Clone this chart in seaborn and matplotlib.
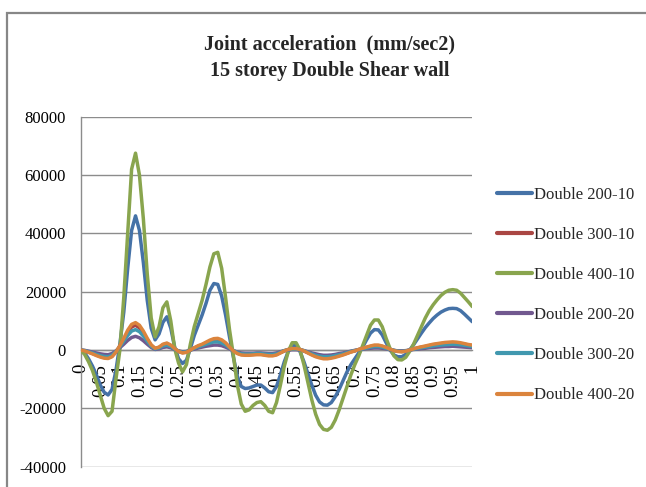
import numpy as np
import pandas as pd
import matplotlib
matplotlib.use("Agg")
import matplotlib.pyplot as plt
from matplotlib.lines import Line2D
from matplotlib.patches import Rectangle
import seaborn as sns

# ---------------- data ----------------
time = [round(i * 0.01, 2) for i in range(101)]

double_200_10 = [
    0, -1000, -3000, -5500, -8500, -12000, -14500, -15400, -13500, -7000,
    2000, 13000, 28000, 41000, 46000, 41000, 30000, 17000, 7500, 3500,
    5500, 9500, 11400, 7500, 1000, -3000, -4600, -3500, 500, 5000,
    8500, 12000, 16000, 20500, 22800, 22500, 18500, 12000, 4500, -2500,
    -9000, -12500, -13200, -13000, -12500, -12000, -12000, -13000, -14300, -14600,
    -12500, -8500, -4000, -500, 1500, 1500, -500, -4000, -8000, -12000,
    -15500, -17800, -18800, -18900, -18000, -16000, -13500, -10500, -7500, -5000,
    -3000, -1000, 1000, 3500, 5800, 7000, 6900, 5200, 2500, 0,
    -1700, -2300, -2300, -1500, 0, 1800, 3800, 5800, 7700, 9300,
    10800, 12000, 13000, 13700, 14200, 14300, 14200, 13500, 12300, 11000,
    9700]

double_300_10 = [
    0, -300, -700, -1200, -1700, -2200, -2500, -2600, -2100, -600,
    1300, 3600, 6100, 7900, 8500, 7600, 5800, 3600, 1600, 500,
    900, 1800, 2200, 1500, 400, -500, -900, -700, 0, 700,
    1300, 1800, 2400, 3000, 3500, 3600, 3100, 2200, 900, -300,
    -1100, -1500, -1600, -1600, -1500, -1400, -1400, -1600, -1800, -1800,
    -1500, -900, -300, 200, 400, 400, 200, -300, -900, -1500,
    -2100, -2400, -2700, -2700, -2500, -2200, -1900, -1500, -1100, -600,
    -300, 200, 500, 900, 1200, 1500, 1500, 1200, 800, 300,
    -200, -400, -500, -400, 0, 400, 700, 1000, 1200, 1500,
    1800, 2000, 2200, 2300, 2400, 2500, 2400, 2200, 2000, 1700,
    1500]

double_400_10 = [
    0, -1500, -4000, -7000, -11000, -15500, -20000, -22500, -21000, -10000,
    0, 18000, 40000, 62000, 67500, 60000, 45000, 26000, 11000, 4500,
    8000, 14500, 16500, 10000, 500, -4500, -7500, -5000, 2000, 8000,
    12500, 17000, 22500, 28500, 33000, 33500, 28000, 18000, 7000, -2000,
    -12000, -18500, -21000, -20500, -19000, -18000, -17700, -19000, -21000, -21500,
    -18000, -12000, -5500, -500, 2500, 2500, 0, -5000, -11000, -17000,
    -22000, -25500, -27200, -27500, -26500, -24000, -20500, -16500, -12500, -8500,
    -5000, -2000, 1500, 5000, 8500, 10300, 10300, 8000, 4000, 500,
    -2000, -3300, -3400, -2500, -500, 2000, 5000, 8000, 11000, 13500,
    15500, 17200, 18700, 19800, 20500, 20700, 20500, 19500, 18000, 16500,
    14900]

double_200_20 = [
    0, -100, -400, -700, -1000, -1300, -1500, -1600, -1200, -300,
    800, 2000, 3300, 4300, 4700, 4200, 3200, 2000, 900, 200,
    400, 900, 1100, 800, 200, -300, -600, -500, 0, 300,
    700, 1000, 1300, 1500, 1700, 1700, 1500, 1000, 400, -200,
    -700, -1000, -1100, -1100, -1100, -1000, -1000, -1100, -1200, -1200,
    -1000, -600, -200, 0, 100, 100, 0, -200, -600, -1000,
    -1300, -1600, -1800, -1800, -1700, -1500, -1200, -1000, -700, -400,
    -100, 100, 300, 500, 600, 700, 700, 600, 400, 100,
    -100, -300, -300, -200, 0, 200, 300, 500, 600, 800,
    900, 1000, 1100, 1200, 1200, 1300, 1200, 1100, 1000, 900,
    800]

double_300_20 = [
    0, -200, -600, -1000, -1500, -1900, -2200, -2300, -1800, -500,
    1100, 3000, 5000, 6500, 7000, 6300, 4800, 3000, 1300, 400,
    700, 1400, 1700, 1200, 300, -400, -800, -600, 0, 600,
    1100, 1500, 2000, 2400, 2800, 2800, 2400, 1700, 700, -200,
    -900, -1300, -1400, -1400, -1300, -1200, -1200, -1400, -1500, -1500,
    -1300, -800, -200, 100, 300, 300, 100, -200, -800, -1300,
    -1800, -2100, -2300, -2300, -2200, -1900, -1600, -1300, -900, -500,
    -200, 100, 400, 700, 1000, 1200, 1200, 1000, 600, 200,
    -100, -400, -500, -300, 0, 300, 500, 800, 1000, 1200,
    1400, 1600, 1700, 1800, 1900, 2000, 1900, 1800, 1600, 1400,
    1200]

double_400_20 = [
    0, -300, -800, -1300, -1900, -2400, -2800, -2900, -2300, -700,
    1500, 4000, 6800, 8800, 9400, 8500, 6500, 4000, 1800, 600,
    1000, 2000, 2400, 1700, 500, -500, -1000, -800, 0, 800,
    1500, 2000, 2700, 3400, 3900, 4000, 3500, 2500, 1000, -300,
    -1200, -1700, -1800, -1800, -1700, -1600, -1600, -1800, -2000, -2000,
    -1700, -1000, -300, 200, 500, 500, 200, -300, -1000, -1700,
    -2300, -2700, -3000, -3000, -2800, -2500, -2100, -1700, -1200, -700,
    -300, 200, 600, 1000, 1400, 1700, 1700, 1400, 900, 300,
    -200, -500, -600, -400, 0, 400, 800, 1100, 1400, 1700,
    2000, 2200, 2400, 2600, 2700, 2800, 2700, 2500, 2200, 1900,
    1700]

series_names = ["Double 200-10", "Double 300-10", "Double 400-10",
                "Double 200-20", "Double 300-20", "Double 400-20"]
series_values = [double_200_10, double_300_10, double_400_10,
                 double_200_20, double_300_20, double_400_20]
series_colors = ["#4572A7", "#AA4643", "#89A54E", "#71588F", "#4198AF", "#DB843D"]

x_tick_values = [round(i * 0.05, 2) for i in range(21)]
x_tick_labels = ["0", "0.05", "0.1", "0.15", "0.2", "0.25", "0.3", "0.35", "0.4",
                 "0.45", "0.5", "0.55", "0.6", "0.65", "0.7", "0.75", "0.8", "0.85",
                 "0.9", "0.95", "1"]
y_tick_values = [-40000, -20000, 0, 20000, 40000, 60000, 80000]

title_text = "Joint acceleration  (mm/sec2)\n15 storey Double Shear wall"

# ---------------- frame ----------------
df = pd.DataFrame({
    "time": time * len(series_names),
    "value": [v for vals in series_values for v in vals],
    "series": [n for n in series_names for _ in time],
})

sns.set_theme(style="white")
plt.rcParams["font.family"] = ["Liberation Serif", "DejaVu Serif"]

W, H = 646, 487
fig = plt.figure(figsize=(W / 100, H / 100), dpi=100)
fig.patch.set_facecolor("white")

# outer chart border
fig.add_artist(Rectangle((7.3 / W, -0.1), 1.2, 1.1 - 12.7 / H,
                         transform=fig.transFigure, fill=False,
                         edgecolor="#878787", linewidth=1.6))

left, right, top, bottom = 80.7, 472.3, 116.7, 466.7
ax = fig.add_axes([left / W, 1 - bottom / H, (right - left) / W, (bottom - top) / H])
ax.set_facecolor("none")

sns.lineplot(data=df, x="time", y="value", hue="series", hue_order=series_names,
             palette=series_colors, linewidth=2.5, legend=False, ax=ax,
             sort=False, estimator=None)
for ln in ax.get_lines():
    ln.set_solid_capstyle("round")
    ln.set_solid_joinstyle("round")
    ln.set_zorder(3)

ax.set_xlim(0, 1)
ax.set_ylim(-40000, 80000)
ax.set_xlabel("")
ax.set_ylabel("")

grid_c = "#8C8C8C"
ax.set_yticks(y_tick_values)
ax.set_yticklabels([str(v) for v in y_tick_values])
ax.yaxis.grid(True, color=grid_c, linewidth=1.0)
ax.set_axisbelow(True)

ax.set_xticks(x_tick_values)
ax.set_xticklabels(x_tick_labels)
ax.set_xticks([round(i * 0.01, 2) for i in range(101)], minor=True)

for s in ["top", "right"]:
    ax.spines[s].set_visible(False)
ax.spines["left"].set_color(grid_c)
ax.spines["left"].set_linewidth(1.0)
ax.spines["bottom"].set_position(("data", 0))
ax.spines["bottom"].set_color(grid_c)
ax.spines["bottom"].set_linewidth(1.0)
ax.spines["bottom"].set_zorder(2)

ax.tick_params(axis="y", which="major", direction="out", length=4, width=1,
               color=grid_c, pad=6.5, labelcolor="black", labelsize=12)
ax.tick_params(axis="x", which="both", direction="out", length=4, width=0.8,
               color=grid_c, labelcolor="black")
ax.tick_params(axis="x", which="major", pad=6, labelrotation=90, labelsize=13.5)
for lbl in ax.get_xticklabels():
    lbl.set_rotation(90)
    lbl.set_va("top")
    lbl.set_ha("center")
    lbl.set_fontsize(13.5)

fig.text(330 / W, 1 - 58 / H, title_text, ha="center", va="center",
         fontsize=14.5, fontweight="bold", linespacing=1.45)

handles = [Line2D([0], [0], color=c, linewidth=3, solid_capstyle="round")
           for c in series_colors]
fig.legend(handles, series_names, loc="center left",
           bbox_to_anchor=(497 / W, 1 - 295 / H), frameon=False,
           fontsize=12, handlelength=2.1, handletextpad=0.1,
           labelspacing=1.45, borderpad=0, borderaxespad=0)

fig.savefig("out.png", dpi=100)
